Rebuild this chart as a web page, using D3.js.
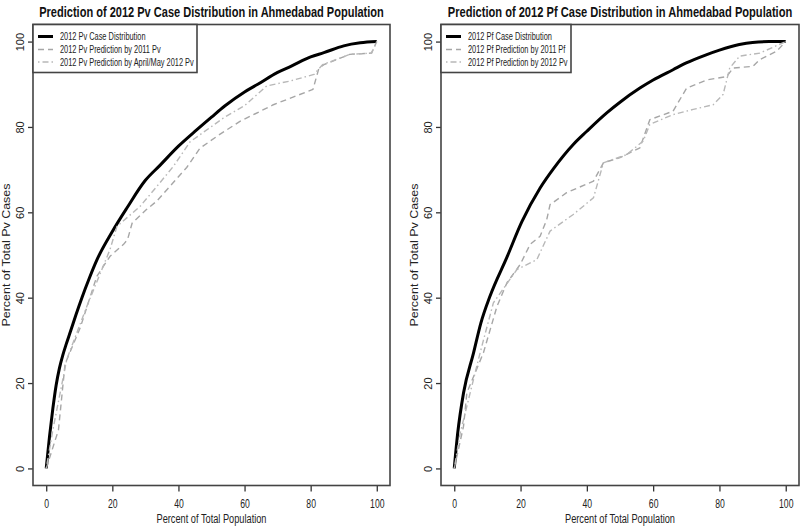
<!DOCTYPE html>
<html><head><meta charset="utf-8">
<script src="https://cdn.jsdelivr.net/npm/d3@7"></script>
<style>body{margin:0;background:#fff}</style>
</head><body><svg id="c" width="800" height="526"></svg>
<script>
// ---- data ----
const xTicks = [0, 20, 40, 60, 80, 100];
const yTicks = [0, 20, 40, 60, 80, 100];

// Left panel (Pv)
const pvCase = [[0,0],[1,7.5],[2,14],[3,19.5],[4,23.5],[5,26.5],[6,29],[7.3,32],[9,36],[10.8,40],[13,44.5],[15.3,48.8],[20,55.5],[24.4,61],[30,67.5],[34.4,71],[40,75.5],[45.5,79.3],[50,82.3],[54,84.9],[60,88.2],[64,90],[70,92.8],[74,94.2],[80,96.4],[84,97.4],[90,99],[95,99.7],[100,100]];
const pvPred2011 = [[0,0],[3.7,9],[5.7,24.5],[10.3,33],[15.3,45],[19.3,49.7],[23.4,52.5],[24.6,53.6],[26,57.5],[30.4,60.7],[33.4,62.6],[42.5,70.5],[46.5,75],[52,78],[58.6,81.3],[68.7,85.2],[80.7,88.8],[82.5,93.8],[84,94.6],[91.8,97],[98.4,97.3],[100,100]];
const pvPredAprMay = [[0,0],[2,9],[6.2,25.5],[12.3,38],[19.3,51.3],[21.4,56.7],[28.4,61.4],[33.4,66],[38.5,70.8],[43.5,76.5],[53.6,82.1],[60,85],[66.7,89.6],[74,90.8],[81,92.3],[83.6,94.6],[91.8,97],[98.4,97.3],[100,100]];

// Right panel (Pf)
const pfCase = [[0,0],[1,8],[2.8,17.7],[5.8,27],[8,34],[10.8,40.4],[15.9,49.5],[20.4,57.8],[25.9,65.7],[30,70.3],[35.9,75.9],[40,79],[46,83.3],[50,85.8],[56,89.1],[60,91],[66,93.4],[70,95],[76,96.9],[80,98],[86,99.3],[90,99.8],[95,100],[100,100]];
const pfPred2011 = [[0,0],[2.8,9.9],[3.8,17.7],[8.8,27.1],[12.9,38],[15.9,43.5],[19.9,47.8],[22.9,52.5],[25.9,54.4],[27.9,58.3],[28.9,61.8],[33.9,64.6],[42,67.3],[45,71.6],[50,72.8],[56,75.1],[59,81.7],[66,83.7],[70.1,89.1],[76.1,91],[82.2,91.8],[84.1,93.8],[90.1,94.2],[92.2,95.8],[97.2,97.7],[100,100]];
const pfPredPv = [[0,0],[1.8,8.3],[7.8,27.1],[11.8,38.8],[18.9,46.6],[24.9,48.9],[28.9,55.6],[35.9,59.5],[42,63.4],[45,71.6],[52,73.5],[57,76.7],[59,80.6],[66,82.9],[72.1,84.1],[78.1,85.2],[81.1,87.6],[83.1,93.8],[86.1,96.6],[92.2,97.3],[100,100]];

const titles = ["Prediction of 2012 Pv Case Distribution in Ahmedabad Population",
                "Prediction of 2012 Pf Case Distribution in Ahmedabad Population"];
const yLabels = ["Percent of Total Pv Cases", "Percent of Total Pv Cases"];
const xLabel = "Percent of Total Population";
const pvLegend = ["2012 Pv Case Distribution", "2012 Pv Prediction by 2011 Pv", "2012 Pv Prediction by April/May 2012 Pv"];
const pfLegend = ["2012 Pf Case Distribution", "2012 Pf Prediction by 2011 Pf", "2012 Pf Prediction by 2012 Pv"];

// ---- drawing ----
const FONT = "'Liberation Sans', Arial, Helvetica, sans-serif";
const styles = [
  {w: 3, c: "#000", dash: null, curve: d3.curveMonotoneX},
  {w: 1.4, c: "#a6a6a6", dash: "6,4", curve: d3.curveLinear},
  {w: 1.4, c: "#b8b8b8", dash: "1.5,3,6,3", curve: d3.curveLinear}
];
const svg = d3.select("#c");
svg.append("rect").attr("width", 800).attr("height", 526).attr("fill", "#fff");

function condense(sel, k) {
  sel.each(function () {
    const w = this.getComputedTextLength();
    d3.select(this).attr("textLength", w * k).attr("lengthAdjust", "spacingAndGlyphs");
  });
}

function panel(o) {
  const x = d3.scaleLinear().domain([-4, 104]).range([o.left, o.right]);
  const y = d3.scaleLinear().domain([-4, 104]).range([o.bottom, o.top]);
  const g = svg.append("g");

  // series
  o.series.forEach((s, i) => {
    const st = styles[i];
    const line = d3.line().x(d => x(d[0])).y(d => y(d[1])).curve(st.curve);
    g.append("path").datum(s).attr("d", line).attr("fill", "none")
      .attr("stroke", st.c).attr("stroke-width", st.w)
      .attr("stroke-dasharray", st.dash).attr("stroke-linejoin", "round");
  });

  // axes
  const ax = g.append("g").attr("transform", `translate(0,${o.bottom})`)
    .call(d3.axisBottom(x).tickValues(xTicks).tickSize(6).tickFormat(d3.format("d")));
  ax.select(".domain").remove();
  ax.selectAll("line").attr("stroke", "#333").attr("stroke-width", 1.3);
  ax.selectAll("text").attr("y", 22).attr("dy", 0).attr("fill", "#222")
    .style("font-family", FONT).style("font-size", "12px");
  condense(ax.selectAll("text"), 0.72);

  const ay = g.append("g").attr("transform", `translate(${o.left},0)`)
    .call(d3.axisLeft(y).tickValues(yTicks).tickSize(5).tickFormat(d3.format("d")));
  ay.select(".domain").remove();
  ay.selectAll("line").attr("stroke", "#333").attr("stroke-width", 1.3);
  ay.selectAll("text").attr("x", 0).attr("dy", 0).attr("y", 0)
    .attr("transform", "translate(-9.5,0) rotate(-90)")
    .attr("text-anchor", "middle").attr("fill", "#222")
    .style("font-family", FONT).style("font-size", "11px");

  // box
  g.append("rect").attr("x", o.left).attr("y", o.top)
    .attr("width", o.right - o.left).attr("height", o.bottom - o.top)
    .attr("fill", "none").attr("stroke", "#444").attr("stroke-width", 1.6);

  // title (horizontally condensed via a scale transform)
  const cx = (o.left + o.right) / 2;
  const tg = g.append("g");
  const tt = tg.append("text").text(o.title).attr("x", 0).attr("y", 0)
    .attr("text-anchor", "middle").attr("font-weight", "bold")
    .style("font-family", FONT).style("font-size", "14px").attr("fill", "#111");
  const tw = tt.node().getComputedTextLength();
  tg.attr("transform", `translate(${cx},17) scale(${345 / tw},1)`);

  // x label
  g.append("text").text(xLabel).attr("x", cx).attr("y", 522.5)
    .attr("text-anchor", "middle").style("font-family", FONT).style("font-size", "12px")
    .attr("fill", "#222").attr("textLength", 110).attr("lengthAdjust", "spacingAndGlyphs");

  // y label
  const cy = (o.top + o.bottom) / 2;
  g.append("text").text(o.ylab).attr("transform", `translate(${o.left - 23},${cy}) rotate(-90)`)
    .attr("text-anchor", "middle").style("font-family", FONT).style("font-size", "11px")
    .attr("fill", "#222").attr("textLength", 143).attr("lengthAdjust", "spacingAndGlyphs");

  // legend
  const lg = g.append("g").attr("transform", `translate(${o.left},${o.top})`);
  lg.append("rect").attr("width", o.legendW).attr("height", 48)
    .attr("fill", "#fff").attr("stroke", "#444").attr("stroke-width", 1.6);
  const rows = [12, 25, 37.5];
  o.legend.forEach((t, i) => {
    const st = styles[i];
    lg.append("line").attr("x1", 5).attr("x2", 20).attr("y1", rows[i]).attr("y2", rows[i])
      .attr("stroke", st.c).attr("stroke-width", st.w).attr("stroke-dasharray", st.dash);
    const tx = lg.append("text").text(t).attr("x", 27).attr("y", rows[i] + 3.5)
      .style("font-family", FONT).style("font-size", "10px").attr("fill", "#222");
    condense(tx, 0.74);
  });
}

panel({left: 33, right: 390, top: 24.5, bottom: 485.5, series: [pvCase, pvPred2011, pvPredAprMay],
       title: titles[0], ylab: yLabels[0], legend: pvLegend, legendW: 164});
panel({left: 441, right: 799, top: 24.5, bottom: 485.5, series: [pfCase, pfPred2011, pfPredPv],
       title: titles[1], ylab: yLabels[1], legend: pfLegend, legendW: 130});
</script>
</body></html>
